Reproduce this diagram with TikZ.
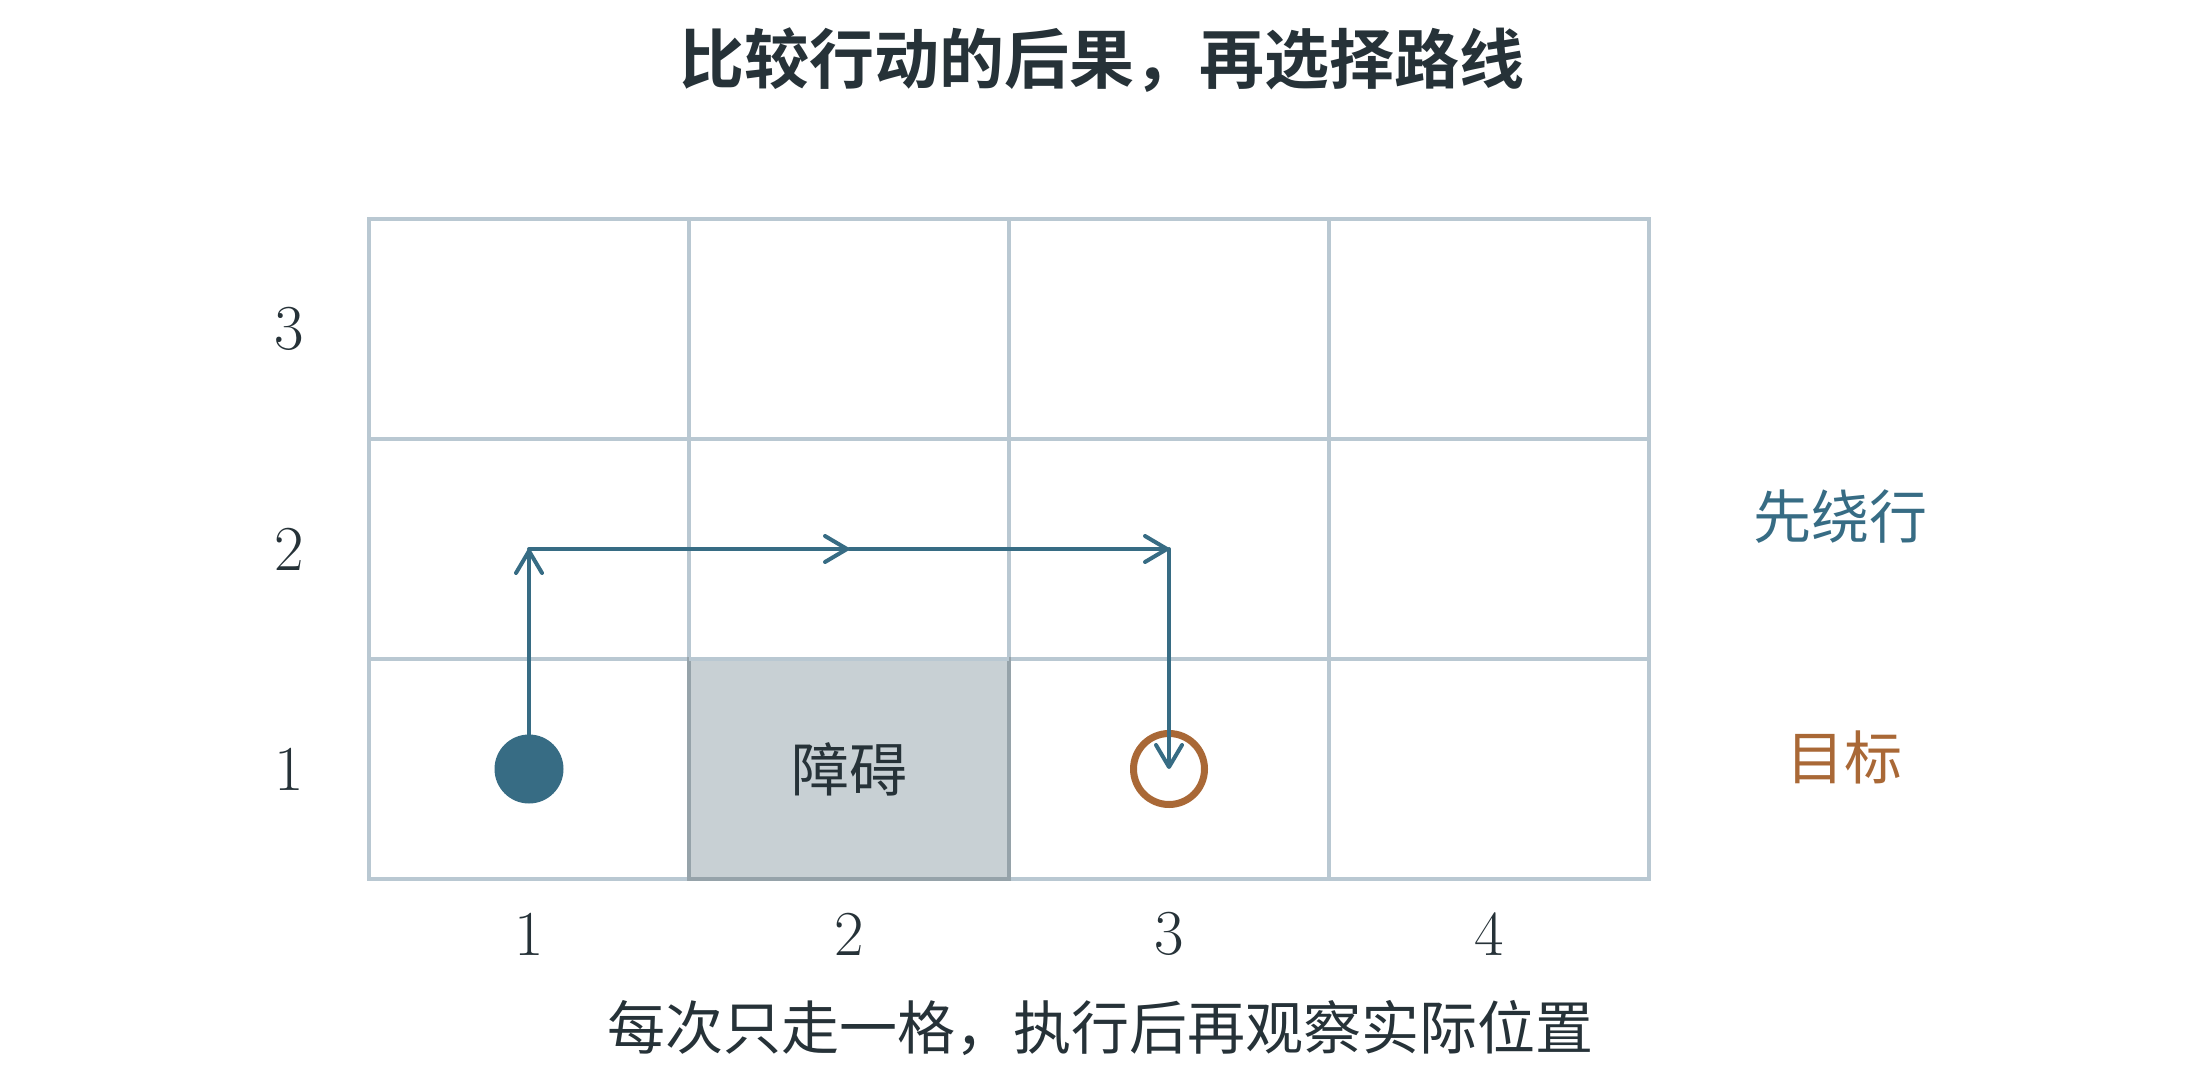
\documentclass[tikz,border=0pt]{standalone}
\usepackage{fontspec}
\newfontfamily\cjk{Noto Sans CJK SC}
\newfontfamily\cjkb{Noto Sans CJK SC Bold}
\usetikzlibrary{arrows.meta}
\definecolor{ink}{HTML}{263238}
\definecolor{gridc}{HTML}{B9C8D2}
\definecolor{obsfill}{HTML}{C8D0D4}
\definecolor{obsline}{HTML}{96A3AA}
\definecolor{teal}{HTML}{376C84}
\definecolor{ochre}{HTML}{A96836}
\tikzset{
  cell/.style={draw=gridc, line width=4.5pt},
  obstacle/.style={draw=obsline, fill=obsfill, line width=4.5pt},
  numlabel/.style={text=ink, font=\fontsize{64}{70}\selectfont, inner sep=0pt},
  cjklabel/.style={font=\cjk\fontsize{58}{64}\selectfont, inner sep=0pt},
  pathline/.style={draw=teal, line width=4pt, line cap=round,
     -{Straight Barb[length=22pt,width=26pt,round]}},
}
\begin{document}
\begin{tikzpicture}[x=1pt,y=-1pt]
\useasboundingbox (0,0) rectangle (2200,1070);
% grid cells
\foreach \i in {0,...,3}{
  \foreach \j in {0,...,2}{
    \draw[cell] (369+320*\i, 219+220*\j) rectangle ++(320,220);
  }
}
% obstacle
\draw[obstacle] (689,659) rectangle (1009,879);
\draw[cell] (689,659) -- (1009,659);
\node[cjklabel, text=ink] (obs) at (849,769) {障碍};
% title
\node[font=\cjkb\fontsize{65}{72}\selectfont, text=ink, inner sep=0pt] (title) at (1102,60) {比较行动的后果，再选择路线};
% row labels
\node[numlabel] (r3) at (289,329) {3};
\node[numlabel] (r2) at (289,549) {2};
\node[numlabel] (r1) at (289,769) {1};
% column labels
\node[numlabel] (c1) at (529,934) {1};
\node[numlabel] (c2) at (849,934) {2};
\node[numlabel] (c3) at (1169,934) {3};
\node[numlabel] (c4) at (1489,934) {4};
% caption
\node[cjklabel, text=ink] (caption) at (1100,1028) {每次只走一格，执行后再观察实际位置};
% side labels
\node[cjklabel, text=teal] (detour) at (1840,517) {先绕行};
\node[cjklabel, text=ochre] (goallabel) at (1844,757) {目标};
% start and goal
\node[circle, fill=teal, minimum size=69pt, inner sep=0pt] (start) at (529,769) {};
\node[circle, draw=ochre, line width=7pt, minimum size=71pt, inner sep=0pt] (goal) at (1169,769) {};
\coordinate (turn1) at (529,549);
\coordinate (mid) at (849,549);
\coordinate (turn2) at (1169,549);
% path
\draw[pathline] (start.center) -- (turn1);
\draw[pathline] (turn1) -- (mid);
\draw[pathline] (mid) -- (turn2);
\draw[pathline] (turn2) -- (goal.center);
\end{tikzpicture}
\end{document}
